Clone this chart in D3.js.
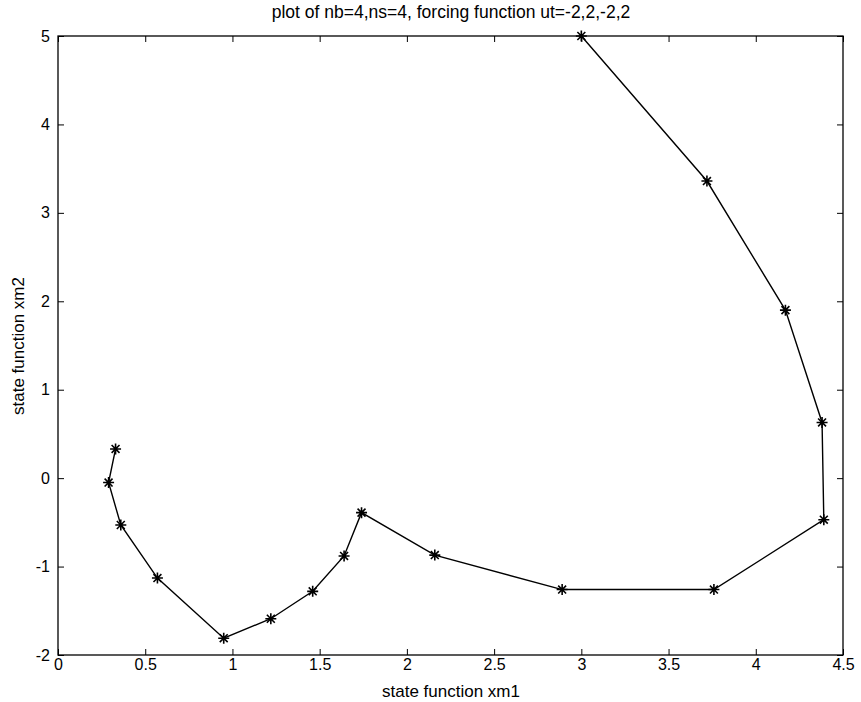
<!DOCTYPE html>
<html><head><meta charset="utf-8">
<script src="https://cdn.jsdelivr.net/npm/d3@7"></script>
<style>body{margin:0;background:#fff}svg{display:block}text{font-family:"Liberation Sans",Arial,Helvetica,sans-serif;fill:#000}</style>
</head><body><svg id="c" width="861" height="702"></svg>
<script>
const xm1 = [0.33, 0.29, 0.36, 0.57, 0.95, 1.22, 1.46, 1.64, 1.74, 2.16, 2.89, 3.76, 4.39, 4.38, 4.17, 3.72, 3.00];
const xm2 = [0.33, -0.05, -0.53, -1.13, -1.81, -1.59, -1.28, -0.88, -0.39, -0.87, -1.26, -1.26, -0.47, 0.63, 1.90, 3.36, 5.00];
const xTicks = [0, 0.5, 1, 1.5, 2, 2.5, 3, 3.5, 4, 4.5];
const yTicks = [-2, -1, 0, 1, 2, 3, 4, 5];
const title = "plot of nb=4,ns=4, forcing function ut=-2,2,-2,2";
const xLabel = "state function xm1";
const yLabel = "state function xm2";

const svg = d3.select("#c");
const L = 58, R = 843, T = 36, B = 655;
const x = d3.scaleLinear().domain([0, 4.5]).range([L, R]);
const y = d3.scaleLinear().domain([-2, 5]).range([B, T]);
const tl = 6;
const fmt = d => String(d);

svg.append("g").attr("transform", `translate(0,${B})`)
  .call(d3.axisBottom(x).tickValues(xTicks).tickSizeInner(-tl).tickSizeOuter(0).tickPadding(4).tickFormat(fmt));
svg.append("g").attr("transform", `translate(0,${T})`)
  .call(d3.axisTop(x).tickValues(xTicks).tickSizeInner(-tl).tickSizeOuter(0).tickFormat(""));
svg.append("g").attr("transform", `translate(${L},0)`)
  .call(d3.axisLeft(y).tickValues(yTicks).tickSizeInner(-tl).tickSizeOuter(0).tickPadding(8).tickFormat(fmt));
svg.append("g").attr("transform", `translate(${R},0)`)
  .call(d3.axisRight(y).tickValues(yTicks).tickSizeInner(-tl).tickSizeOuter(0).tickFormat(""));
svg.selectAll(".domain").remove();
svg.selectAll(".tick line").attr("stroke", "#000").attr("stroke-width", 1);
svg.selectAll(".tick text").style("font-size", "16px").style("font-family", '"Liberation Sans",Arial,sans-serif').attr("fill", "#000");
svg.append("rect").attr("x", L).attr("y", T).attr("width", R - L).attr("height", B - T)
  .attr("fill", "none").attr("stroke", "#000").attr("stroke-width", 1.3);

const pts = xm1.map((v, i) => [v, xm2[i]]);
svg.append("path").datum(pts)
  .attr("d", d3.line().x(d => x(d[0])).y(d => y(d[1])))
  .attr("fill", "none").attr("stroke", "#000").attr("stroke-width", 1.4);

const r = 5.5;
const star = `M0,${-r}L0,${r}M${-r},0L${r},0M${-r*0.72},${-r*0.72}L${r*0.72},${r*0.72}M${-r*0.72},${r*0.72}L${r*0.72},${-r*0.72}`;
svg.append("g").selectAll("path").data(pts).join("path")
  .attr("transform", d => `translate(${x(d[0])},${y(d[1])})`)
  .attr("d", star).attr("fill", "none").attr("stroke", "#000").attr("stroke-width", 1.6);

svg.append("text").attr("x", 451).attr("y", 18).attr("text-anchor", "middle").style("font-size", "17.5px").text(title);
svg.append("text").attr("x", 451).attr("y", 697).attr("text-anchor", "middle").style("font-size", "17px").text(xLabel);
svg.append("text").attr("transform", "translate(24,346) rotate(-90)").attr("text-anchor", "middle").style("font-size", "17px").text(yLabel);
</script></body></html>
